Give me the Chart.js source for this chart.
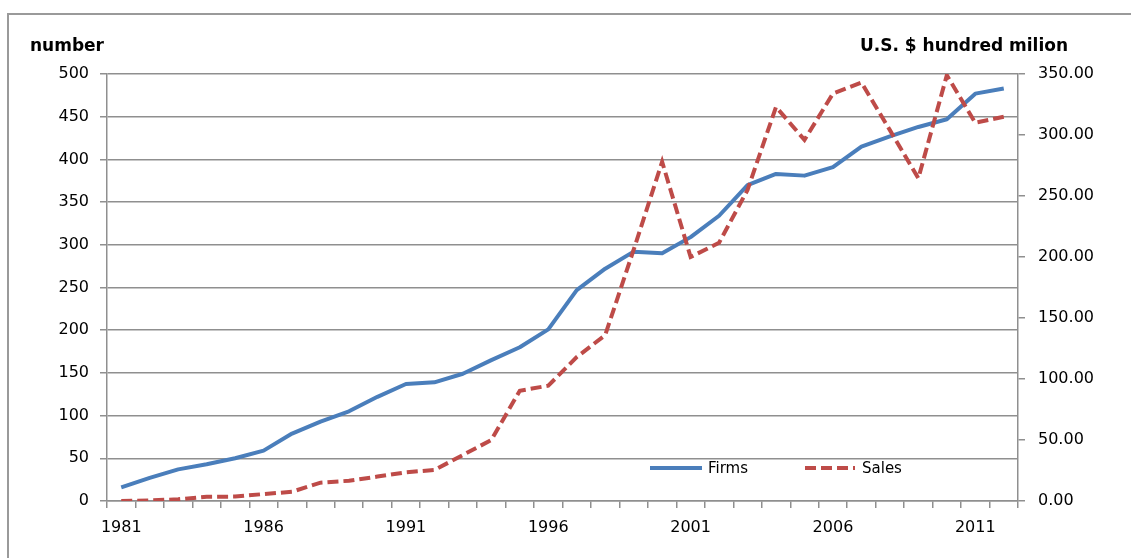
<!DOCTYPE html>
<html>
<head>
<meta charset="utf-8">
<style>
  html, body { margin: 0; padding: 0; background: #ffffff; }
  #wrap { width: 1131px; height: 558px; position: relative; }
</style>
<script src="https://cdn.jsdelivr.net/npm/chart.js@4/dist/chart.umd.min.js"></script>
</head>
<body>
<div id="wrap"><canvas id="c" width="1131" height="558"></canvas></div>
<script>
// Years on the category axis
const years = [1981, 1982, 1983, 1984, 1985, 1986, 1987, 1988, 1989, 1990,
               1991, 1992, 1993, 1994, 1995, 1996, 1997, 1998, 1999, 2000,
               2001, 2002, 2003, 2004, 2005, 2006, 2007, 2008, 2009, 2010,
               2011, 2012];

// Number of firms (left axis)
const firms = [16, 27, 37, 43, 50, 59, 79, 93, 105, 122,
               137, 139, 149, 165, 180, 201, 247, 272, 292, 290,
               309, 334, 370, 383, 381, 391, 415, 427, 438, 447,
               477, 483];

// Sales, U.S. $ hundred million (right axis)
const sales = [0, 0.5, 1.4, 3.5, 3.6, 5.7, 7.6, 15, 16.6, 20,
               23.5, 25.4, 37.7, 50, 90.4, 94.5, 118, 136, 206, 278,
               200, 211.7, 255, 323, 296, 334, 343, 304, 264.5, 349,
               310, 315];

// Axis titles and legend labels
const leftTitle = 'number';
const rightTitle = 'U.S. $ hundred milion';
const firmsLabel = 'Firms';
const salesLabel = 'Sales';

// Which years get a label on the x axis
const labelledYears = [1981, 1986, 1991, 1996, 2001, 2006, 2011];

const FONT = '"DejaVu Sans", Verdana, sans-serif';
const GRID = '#8f8f8f';

// Outer frame, axis titles and the in-plot legend
const decorations = {
  id: 'decorations',
  beforeDraw(chart) {
    const ctx = chart.ctx;
    ctx.save();
    ctx.fillStyle = '#ffffff';
    ctx.fillRect(0, 0, chart.width, chart.height);
    ctx.strokeStyle = '#9a9a9a';
    ctx.lineWidth = 2;
    ctx.strokeRect(8, 14, chart.width + 20, chart.height + 20);
    ctx.restore();
  },
  afterDraw(chart) {
    const ctx = chart.ctx;
    ctx.save();
    ctx.fillStyle = '#000000';
    ctx.font = 'bold 17px ' + FONT;
    ctx.textBaseline = 'middle';
    ctx.textAlign = 'left';
    ctx.fillText(leftTitle, 30, 47);
    ctx.textAlign = 'right';
    ctx.fillText(rightTitle, 1068, 47);

    // legend entries, styled from the datasets themselves
    const items = [
      { ds: chart.data.datasets[0], x0: 650, x1: 702, tx: 708 },
      { ds: chart.data.datasets[1], x0: 805, x1: 855, tx: 862 }
    ];
    const y = 468;
    ctx.font = '15px ' + FONT;
    ctx.textAlign = 'left';
    items.forEach(it => {
      ctx.beginPath();
      ctx.strokeStyle = it.ds.borderColor;
      ctx.lineWidth = it.ds.borderWidth;
      ctx.lineCap = 'butt';
      ctx.setLineDash(it.ds.borderDash || []);
      ctx.moveTo(it.x0, y);
      ctx.lineTo(it.x1, y);
      ctx.stroke();
      ctx.setLineDash([]);
      ctx.fillStyle = '#000000';
      ctx.fillText(it.ds.label, it.tx, y + 1);
    });
    ctx.restore();
  }
};

new Chart(document.getElementById('c'), {
  type: 'line',
  data: {
    labels: years,
    datasets: [
      {
        label: firmsLabel,
        data: firms,
        yAxisID: 'y',
        borderColor: '#4a7ebb',
        borderWidth: 4,
        pointRadius: 0,
        tension: 0,
        order: 1,
        borderJoinStyle: 'round'
      },
      {
        label: salesLabel,
        data: sales,
        yAxisID: 'y2',
        borderColor: '#be4b48',
        borderWidth: 4,
        borderDash: [11, 5],
        borderCapStyle: 'butt',
        pointRadius: 0,
        tension: 0,
        order: 0
      }
    ]
  },
  options: {
    responsive: false,
    devicePixelRatio: 1,
    animation: false,
    layout: { padding: { left: 20, right: 13, top: 74, bottom: 17 } },
    plugins: {
      legend: { display: false },
      tooltip: { enabled: false },
      title: { display: false }
    },
    scales: {
      x: {
        type: 'category',
        offset: true,
        afterFit: s => { s.height = 40; },
        grid: {
          offset: true,
          drawOnChartArea: false,
          drawTicks: true,
          tickLength: 7,
          color: GRID,
          lineWidth: 1.5
        },
        border: { display: true, color: GRID, width: 1.5 },
        ticks: {
          autoSkip: false,
          maxRotation: 0,
          padding: 10,
          color: '#000000',
          font: { family: FONT, size: 16 },
          callback: function (v, i) {
            const yr = years[i];
            return labelledYears.includes(yr) ? String(yr) : '';
          }
        }
      },
      y: {
        position: 'left',
        min: 0,
        max: 500,
        afterFit: s => { s.width = 87; },
        grid: {
          color: GRID,
          lineWidth: 1.5,
          drawTicks: true,
          tickLength: 7
        },
        border: { display: true, color: GRID, width: 1.5 },
        ticks: {
          stepSize: 50,
          padding: 11,
          color: '#000000',
          font: { family: FONT, size: 16 }
        }
      },
      y2: {
        position: 'right',
        min: 0,
        max: 350,
        afterFit: s => { s.width = 100; },
        grid: {
          drawOnChartArea: false,
          drawTicks: true,
          tickLength: 7,
          color: GRID,
          lineWidth: 1.5
        },
        border: { display: true, color: GRID, width: 1.5 },
        ticks: {
          stepSize: 50,
          padding: 13,
          color: '#000000',
          font: { family: FONT, size: 16 },
          callback: v => Number(v).toFixed(2)
        }
      }
    }
  },
  plugins: [decorations]
});
</script>
</body>
</html>
